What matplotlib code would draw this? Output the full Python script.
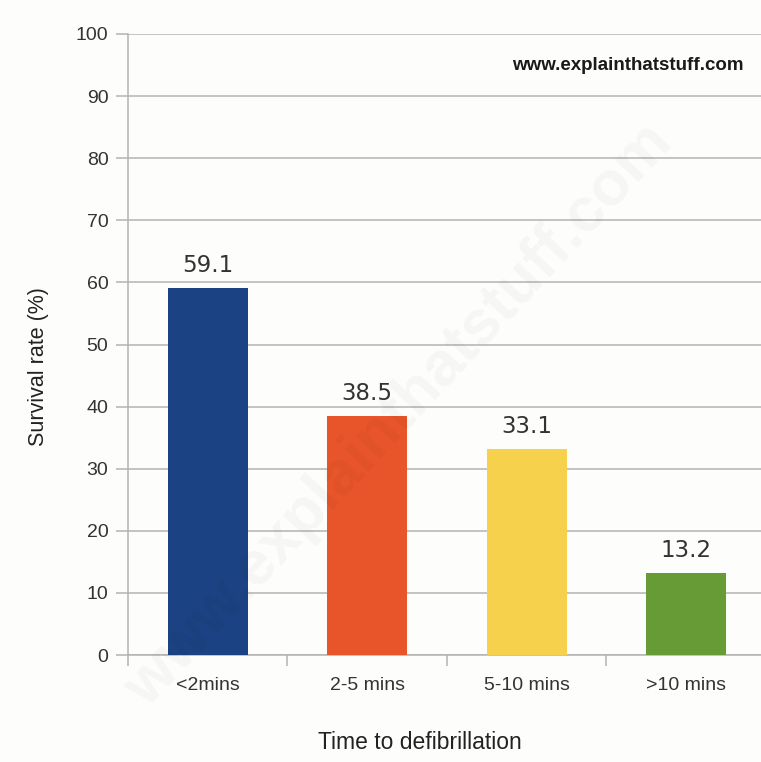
import matplotlib.pyplot as plt
import numpy as np

categories = ['<2mins', '2-5 mins', '5-10 mins', '>10 mins']
survival = [59.1, 38.5, 33.1, 13.2]
bar_colors = ['#1b4282', '#e9552b', '#f6d14c', '#679b35']
yticks = [0, 10, 20, 30, 40, 50, 60, 70, 80, 90, 100]

plt.rcParams['font.family'] = ['Liberation Sans', 'DejaVu Sans']

fig = plt.figure(figsize=(7.61, 7.62), dpi=100)
fig.patch.set_facecolor('#fdfdfb')
ax = fig.add_axes([0.168, 0.1404, 0.8386, 0.815])
ax.set_facecolor('#fdfdfb')

x = np.arange(len(categories))
ax.bar(x, survival, width=0.5, color=bar_colors, zorder=3)

for xi, v in zip(x, survival):
    ax.annotate(f'{v}', (xi, v), xytext=(0, 8), textcoords='offset points',
                ha='center', va='bottom', fontsize=16.5, color='#333333',
                family='DejaVu Sans')

ax.set_xlim(-0.5, 3.5)
ax.set_ylim(0, 100)
ax.set_yticks(yticks)
ax.yaxis.grid(True, color='#b3b3b3', linewidth=1.1, zorder=0)
ax.tick_params(axis='y', length=9, width=1.1, color='#b3b3b3', labelsize=14,
               labelcolor='#333333', pad=5)

ax.set_xticks(np.arange(-0.5, 4, 1.0))
ax.set_xticklabels([])
ax.set_xticks(x, minor=True)
ax.set_xticklabels(categories, minor=True)
ax.tick_params(axis='x', which='major', length=8, width=1.1, color='#b3b3b3')
ax.tick_params(axis='x', which='minor', length=0, labelsize=14,
               labelcolor='#333333', pad=16)

for s in ['top', 'right']:
    ax.spines[s].set_visible(False)
for s in ['left', 'bottom']:
    ax.spines[s].set_color('#b3b3b3')
    ax.spines[s].set_linewidth(1.1)

ax.set_xlabel('Time to defibrillation', fontsize=16.5, color='#222222')
ax.xaxis.set_label_coords(0.458, -0.123)
ax.set_ylabel('Survival rate (%)', fontsize=15.5, color='#222222')
ax.yaxis.set_label_coords(-0.124, 0.465)

ax.text(0.965, 0.95, 'www.explainthatstuff.com', transform=ax.transAxes,
        ha='right', va='center', fontsize=13.5, fontweight='bold', color='#1a1a1a')

# faint diagonal watermark
fig.text(0.525, 0.455, 'www.explainthatstuff.com', rotation=47, ha='center', va='center',
         fontsize=45, fontweight='bold', color='#000000', alpha=0.03, zorder=0)

fig.savefig('out.png', dpi=100, facecolor=fig.get_facecolor())
